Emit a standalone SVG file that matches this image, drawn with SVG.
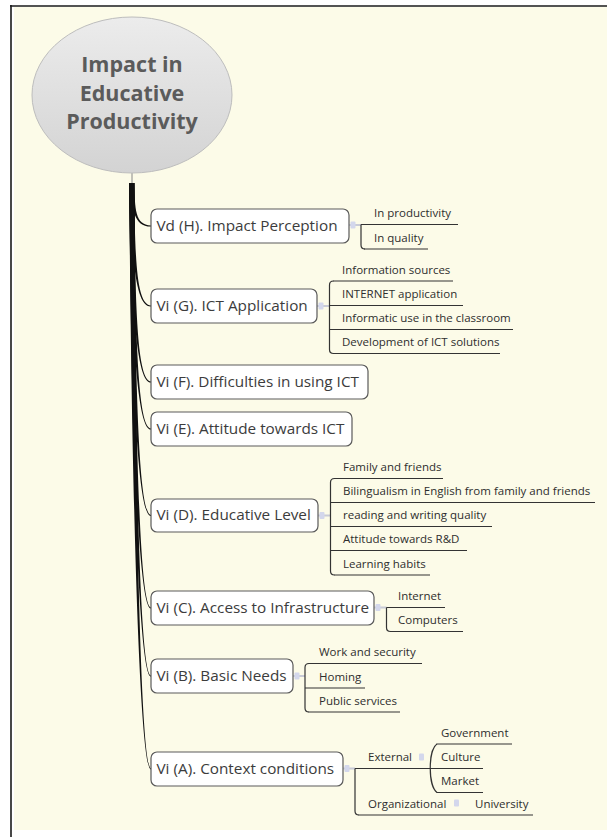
<svg xmlns="http://www.w3.org/2000/svg" width="607" height="837" viewBox="0 0 607 837">
<defs>
<linearGradient id="rootGrad" x1="0" y1="0" x2="0" y2="1">
<stop offset="0" stop-color="#ececec"/>
<stop offset="1" stop-color="#d3d3d3"/>
</linearGradient>
<style>
.box{fill:#ffffff;stroke:#5a5a5a;stroke-width:1.2}
.mt{font-family:"Open Sans","Liberation Sans",sans-serif;font-size:15.3px;fill:#3c3c3c}
.st{font-family:"Open Sans","Liberation Sans",sans-serif;font-size:11.5px;fill:#2e2e2e}
.rt{font-family:"Open Sans","Liberation Sans",sans-serif;font-size:21.5px;font-weight:bold;fill:#5b5b5b}
.ul{stroke:#333333;stroke-width:1.2;fill:none}
.cn{stroke:#c9cbd6;stroke-width:2;fill:none}
.ic{fill:#d3d7ec}
.br{fill:#111111}
</style>
</defs>
<rect x="0" y="0" width="607" height="837" fill="#ffffff"/>
<rect x="14" y="7" width="593" height="823" fill="#fcfbe8"/>
<line x1="11" y1="5" x2="11" y2="837" stroke="#1a1a1a" stroke-width="1.6"/>
<line x1="10" y1="6" x2="607" y2="6" stroke="#1a1a1a" stroke-width="1.6"/>

<g id="connectors">
<line x1="132" y1="173" x2="132" y2="184" stroke="#888" stroke-width="1"/>
<path class="br" d="M129.2,183 C132,208.8 134,226.8 151,226.6 L151,225.4 C135,225.2 135,208.8 134.2,183 Z"/>
<path class="br" d="M129.2,183 C132,256.8 135,306.8 151,306.6 L151,305.4 C136,305.2 135,256.8 134.2,183 Z"/>
<path class="br" d="M129.2,183 C132,302.4 135.9,382.8 151,382.6 L151,381.4 C136.9,381.2 135,302.4 134.2,183 Z"/>
<path class="br" d="M129.2,183 C132,330.6 136.5,429.8 151,429.6 L151,428.4 C137.5,428.2 135,330.6 134.2,183 Z"/>
<path class="br" d="M129.2,183 C132,382.5 137.5,516.3 151,516.1 L151,514.9 C138.5,514.7 135,382.5 134.2,183 Z"/>
<path class="br" d="M129.2,183 C132,438 138.6,608.8 151,608.6 L151,607.4 C139.6,607.2 135,438 134.2,183 Z"/>
<path class="br" d="M129.2,183 C132,478.8 139.4,676.8 151,676.6 L151,675.4 C140.4,675.2 135,478.8 134.2,183 Z"/>
<path class="br" d="M129.2,183 C132,534.6 140.5,769.8 151,769.6 L151,768.4 C141.5,768.2 135,534.6 134.2,183 Z"/>

<line class="cn" x1="349" y1="225" x2="361" y2="225"/>
<line class="cn" x1="317" y1="306" x2="329.5" y2="306"/>
<line class="cn" x1="318" y1="515.5" x2="330.5" y2="515.5"/>
<line class="cn" x1="374" y1="607.5" x2="386.5" y2="607.5"/>
<line class="cn" x1="293" y1="676" x2="305" y2="676"/>
<line class="cn" x1="343" y1="768.5" x2="355" y2="768.5"/>
<rect class="ic" x="350.5" y="221.5" width="5" height="7" rx="1"/>
<rect class="ic" x="318.5" y="302.5" width="5" height="7" rx="1"/>
<rect class="ic" x="319.5" y="512" width="5" height="7" rx="1"/>
<rect class="ic" x="375.5" y="604" width="5" height="7" rx="1"/>
<rect class="ic" x="294.5" y="672.5" width="5" height="7" rx="1"/>
<rect class="ic" x="344.5" y="765" width="5" height="7" rx="1"/>
<rect class="ic" x="419" y="753.5" width="5" height="7" rx="1"/>
<rect class="ic" x="454" y="799.5" width="5" height="7" rx="1"/>

<path class="ul" d="M361,224.5 V245 Q361,249 365,249"/>
<path class="ul" d="M333.5,281 Q329.5,281 329.5,285 V349.5 Q329.5,353.5 333.5,353.5"/>
<path class="ul" d="M334.5,478.5 Q330.5,478.5 330.5,482.5 V571 Q330.5,575 334.5,575"/>
<path class="ul" d="M386.5,607.5 V627.5 Q386.5,631.5 390.5,631.5"/>
<path class="ul" d="M309,663.5 Q305,663.5 305,667.5 V708 Q305,712 309,712"/>
<path class="ul" d="M355,768.5 V811 Q355,815 359,815"/>
<path class="ul" d="M437,744 C428,750 428,786 437,792.5"/>
</g>

<g id="root">
<ellipse cx="132" cy="95" rx="100" ry="78" fill="url(#rootGrad)" stroke="#bdbdbd" stroke-width="1"/>
<text class="rt" x="132" y="72" text-anchor="middle">Impact in</text>
<text class="rt" x="132" y="101" text-anchor="middle">Educative</text>
<text class="rt" x="132" y="129" text-anchor="middle">Productivity</text>
</g>

<g id="node-H">
<rect class="box" x="151" y="209" width="198" height="34" rx="6"/>
<text class="mt" x="156.5" y="230.5">Vd (H). Impact Perception</text>
</g>
<g id="node-H1"><text class="st" x="374" y="217">In productivity</text><line class="ul" x1="361" y1="224.5" x2="458" y2="224.5"/></g>
<g id="node-H2"><text class="st" x="374" y="241.5">In quality</text><line class="ul" x1="364" y1="249" x2="428" y2="249"/></g>

<g id="node-G">
<rect class="box" x="151" y="289" width="166" height="34" rx="6"/>
<text class="mt" x="156.5" y="310.5">Vi (G). ICT Application</text>
</g>
<g id="node-G1"><text class="st" x="342" y="273.5">Information sources</text><line class="ul" x1="333" y1="281" x2="453" y2="281"/></g>
<g id="node-G2"><text class="st" x="342" y="298">INTERNET application</text><line class="ul" x1="329.5" y1="305.5" x2="463" y2="305.5"/></g>
<g id="node-G3"><text class="st" x="342" y="322">Informatic use in the classroom</text><line class="ul" x1="329.5" y1="329.5" x2="513" y2="329.5"/></g>
<g id="node-G4"><text class="st" x="342" y="346">Development of ICT solutions</text><line class="ul" x1="333" y1="353.5" x2="500" y2="353.5"/></g>

<g id="node-F">
<rect class="box" x="151" y="365" width="217" height="34" rx="6"/>
<text class="mt" x="156.5" y="386.5">Vi (F). Difficulties in using ICT</text>
</g>

<g id="node-E">
<rect class="box" x="151" y="412" width="201" height="34" rx="6"/>
<text class="mt" x="156.5" y="433.5">Vi (E). Attitude towards ICT</text>
</g>

<g id="node-D">
<rect class="box" x="151" y="499" width="167" height="33" rx="6"/>
<text class="mt" x="156.5" y="520">Vi (D). Educative Level</text>
</g>
<g id="node-D1"><text class="st" x="343" y="471">Family and friends</text><line class="ul" x1="334" y1="478.5" x2="443" y2="478.5"/></g>
<g id="node-D2"><text class="st" x="343" y="495">Bilingualism in English from family and friends</text><line class="ul" x1="330.5" y1="502.5" x2="595" y2="502.5"/></g>
<g id="node-D3"><text class="st" x="343" y="519">reading and writing quality</text><line class="ul" x1="330.5" y1="526.5" x2="492" y2="526.5"/></g>
<g id="node-D4"><text class="st" x="343" y="543">Attitude towards R&amp;D</text><line class="ul" x1="330.5" y1="550.5" x2="467" y2="550.5"/></g>
<g id="node-D5"><text class="st" x="343" y="567.5">Learning habits</text><line class="ul" x1="334" y1="575" x2="430" y2="575"/></g>

<g id="node-C">
<rect class="box" x="151" y="591" width="223" height="34" rx="6"/>
<text class="mt" x="156.5" y="612.5">Vi (C). Access to Infrastructure</text>
</g>
<g id="node-C1"><text class="st" x="398" y="600">Internet</text><line class="ul" x1="386.5" y1="607.5" x2="445" y2="607.5"/></g>
<g id="node-C2"><text class="st" x="398" y="624">Computers</text><line class="ul" x1="390" y1="631.5" x2="463" y2="631.5"/></g>

<g id="node-B">
<rect class="box" x="151" y="659" width="142" height="34" rx="6"/>
<text class="mt" x="156.5" y="680.5">Vi (B). Basic Needs</text>
</g>
<g id="node-B1"><text class="st" x="319" y="656">Work and security</text><line class="ul" x1="308.5" y1="663.5" x2="422" y2="663.5"/></g>
<g id="node-B2"><text class="st" x="319" y="680.5">Homing</text><line class="ul" x1="305" y1="688" x2="365" y2="688"/></g>
<g id="node-B3"><text class="st" x="319" y="704.5">Public services</text><line class="ul" x1="308.5" y1="712" x2="400" y2="712"/></g>

<g id="node-A">
<rect class="box" x="151" y="752" width="192" height="34" rx="6"/>
<text class="mt" x="156.5" y="773.5">Vi (A). Context conditions</text>
</g>
<g id="node-A1"><text class="st" x="368" y="761">External</text><line class="ul" x1="355" y1="768.5" x2="431" y2="768.5"/></g>
<g id="node-A1a"><text class="st" x="441" y="736.5">Government</text><line class="ul" x1="436.5" y1="744" x2="512" y2="744"/></g>
<g id="node-A1b"><text class="st" x="441" y="761">Culture</text><line class="ul" x1="430" y1="768.5" x2="483" y2="768.5"/></g>
<g id="node-A1c"><text class="st" x="441" y="785">Market</text><line class="ul" x1="436.5" y1="792.5" x2="483" y2="792.5"/></g>
<g id="node-A2"><text class="st" x="368" y="807.5">Organizational</text><line class="ul" x1="358.5" y1="815" x2="533" y2="815"/></g>
<g id="node-A2a"><text class="st" x="475" y="807.5">University</text></g>
</svg>
